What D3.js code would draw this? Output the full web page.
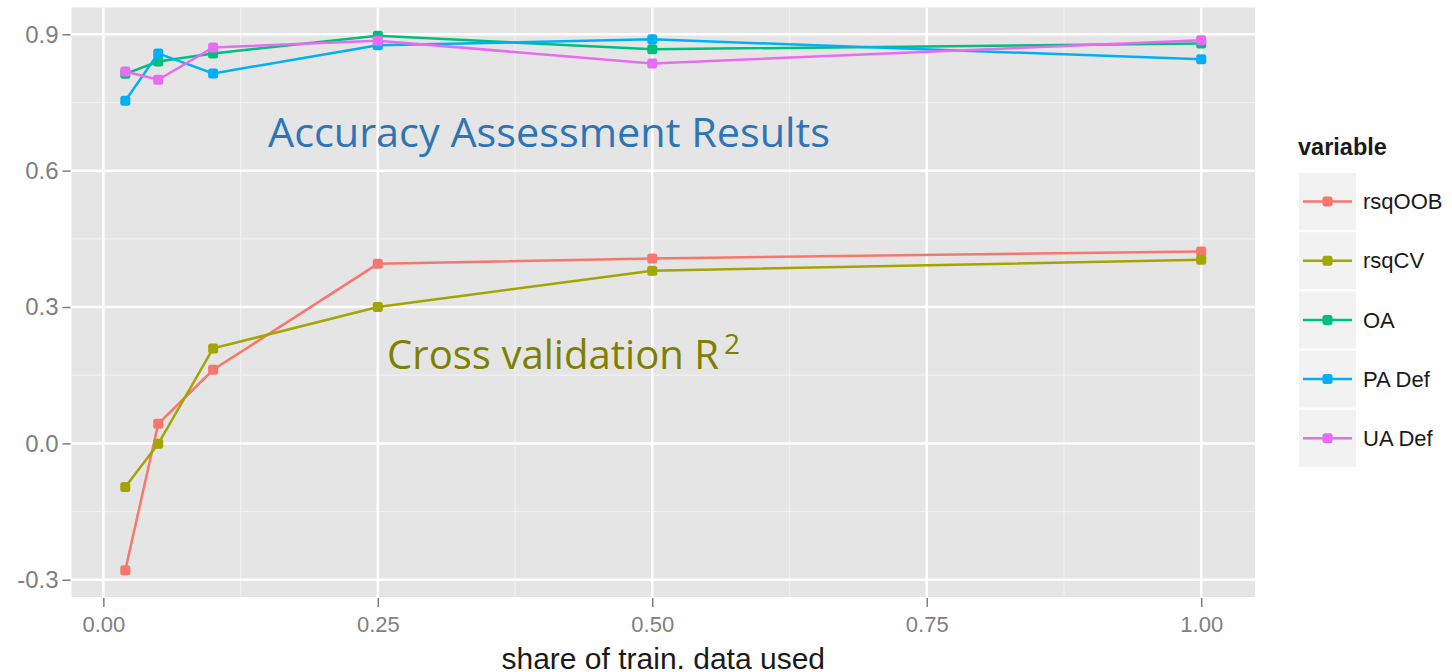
<!DOCTYPE html>
<html>
<head>
    <meta charset="utf-8">
    <title>Accuracy vs share of train data</title>
    <script src="https://cdnjs.cloudflare.com/ajax/libs/d3/7.8.5/d3.min.js"></script>
    <style>
        body { margin: 0; background: #fff; }
        svg { display: block; font-family: "Liberation Sans", Arial, sans-serif; }
        .tick text { fill: #7f7f7f; }
        .tick line { stroke: #7f7f7f; stroke-width: 1.5; }
    </style>
</head>
<body>
    <div id="chart"></div>
    <script>
        // data
        const shares = [0.02, 0.05, 0.1, 0.25, 0.5, 1.0];
        const rsqOOB = [-0.279, 0.043, 0.162, 0.395, 0.407, 0.422];
        const rsqCV = [-0.096, -0.001, 0.209, 0.300, 0.380, 0.404];
        const OA = [0.813, 0.840, 0.858, 0.897, 0.867, 0.880];
        const PADef = [0.754, 0.858, 0.814, 0.876, 0.889, 0.845];
        const UADef = [0.818, 0.800, 0.871, 0.886, 0.836, 0.887];

        const seriesNames = ['rsqOOB', 'rsqCV', 'OA', 'PA Def', 'UA Def'];
        const seriesValues = [rsqOOB, rsqCV, OA, PADef, UADef];
        const colors = ['#F8766D', '#A3A500', '#00BF7D', '#00B0F6', '#E76BF3'];

        const xTicks = [0, 0.25, 0.5, 0.75, 1];
        const xMinor = [0.125, 0.375, 0.625, 0.875];
        const yTicks = [-0.3, 0, 0.3, 0.6, 0.9];
        const yMinor = [-0.15, 0.15, 0.45, 0.75];

        const W = 1452, H = 672;
        const panel = { left: 71.5, right: 1255, top: 7.5, bottom: 597 };

        const svg = d3.select('#chart').append('svg')
            .attr('width', W)
            .attr('height', H);

        // ggplot style expanded domains
        const x = d3.scaleLinear().domain([-0.029, 1.049]).range([panel.left, panel.right]);
        const y = d3.scaleLinear().domain([-0.338, 0.959]).range([panel.bottom, panel.top]);

        // panel background
        svg.append('rect')
            .attr('x', panel.left).attr('y', panel.top)
            .attr('width', panel.right - panel.left)
            .attr('height', panel.bottom - panel.top)
            .attr('fill', '#e5e5e5');

        // minor grid
        svg.append('g').selectAll('line').data(xMinor).join('line')
            .attr('x1', d => x(d)).attr('x2', d => x(d))
            .attr('y1', panel.top).attr('y2', panel.bottom)
            .attr('stroke', '#f0f0f0').attr('stroke-width', 1.2);
        svg.append('g').selectAll('line').data(yMinor).join('line')
            .attr('y1', d => y(d)).attr('y2', d => y(d))
            .attr('x1', panel.left).attr('x2', panel.right)
            .attr('stroke', '#f0f0f0').attr('stroke-width', 1.2);

        // major grid
        svg.append('g').selectAll('line').data(xTicks).join('line')
            .attr('x1', d => x(d)).attr('x2', d => x(d))
            .attr('y1', panel.top).attr('y2', panel.bottom)
            .attr('stroke', '#fff').attr('stroke-width', 2.5);
        svg.append('g').selectAll('line').data(yTicks).join('line')
            .attr('y1', d => y(d)).attr('y2', d => y(d))
            .attr('x1', panel.left).attr('x2', panel.right)
            .attr('stroke', '#fff').attr('stroke-width', 2.5);

        // axes (plain hyphen for negatives, like ggplot)
        const fmtY = d => d3.format('.1f')(d).replace('\u2212', '-');
        const yAxis = svg.append('g')
            .attr('transform', `translate(${panel.left - 1},0)`)
            .call(d3.axisLeft(y).tickValues(yTicks).tickFormat(fmtY).tickSize(8).tickPadding(4));
        yAxis.select('.domain').remove();
        yAxis.selectAll('text').style('font-size', '24px');

        const xAxis = svg.append('g')
            .attr('transform', `translate(0,${panel.bottom + 1})`)
            .call(d3.axisBottom(x).tickValues(xTicks).tickFormat(d3.format('.2f')).tickSize(9).tickPadding(9));
        xAxis.select('.domain').remove();
        xAxis.selectAll('text').style('font-size', '22px');

        svg.append('text')
            .attr('x', (panel.left + panel.right) / 2)
            .attr('y', 669)
            .attr('text-anchor', 'middle')
            .style('font-size', '30px')
            .attr('fill', '#1a1a1a')
            .text('share of train. data used');

        // lines and points
        const line = d3.line()
            .x((d, i) => x(shares[i]))
            .y(d => y(d));

        seriesValues.forEach((vals, k) => {
            svg.append('path')
                .datum(vals)
                .attr('fill', 'none')
                .attr('stroke', colors[k])
                .attr('stroke-width', 2.5)
                .attr('d', line);
            svg.append('g').selectAll('rect').data(vals).join('rect')
                .attr('x', (d, i) => x(shares[i]) - 5)
                .attr('y', d => y(d) - 5)
                .attr('width', 10).attr('height', 10)
                .attr('rx', 2.5)
                .attr('fill', colors[k]);
        });

        // annotations
        svg.append('text')
            .attr('x', 268).attr('y', 147)
            .attr('fill', '#2e75b6')
            .style('font-family', '"Open Sans", sans-serif')
            .style('font-size', '41px')
            .attr('textLength', 562)
            .attr('lengthAdjust', 'spacingAndGlyphs')
            .text('Accuracy Assessment Results');

        const cv = svg.append('text')
            .attr('x', 387).attr('y', 369)
            .attr('fill', '#7f7f00')
            .style('font-family', '"Open Sans", sans-serif')
            .style('font-size', '41px');
        cv.append('tspan')
            .attr('textLength', 332)
            .attr('lengthAdjust', 'spacingAndGlyphs')
            .text('Cross validation R');
        cv.append('tspan')
            .attr('dx', 5)
            .attr('dy', -15)
            .style('font-size', '28px')
            .text('2');

        // legend
        const legX = 1299, legY = 173, key = 57, pitch = 59.2;
        svg.append('text')
            .attr('x', 1298).attr('y', 155)
            .style('font-size', '23.5px')
            .style('font-weight', 'bold')
            .attr('fill', '#1a1a1a')
            .text('variable');

        const leg = svg.append('g').selectAll('g').data(seriesNames).join('g')
            .attr('transform', (d, i) => `translate(${legX},${legY + i * pitch})`);
        leg.append('rect')
            .attr('width', key).attr('height', key)
            .attr('fill', '#f2f2f2');
        leg.append('line')
            .attr('x1', 4).attr('x2', key - 4)
            .attr('y1', key / 2).attr('y2', key / 2)
            .attr('stroke', (d, i) => colors[i])
            .attr('stroke-width', 2.5);
        leg.append('rect')
            .attr('x', key / 2 - 5).attr('y', key / 2 - 5)
            .attr('width', 10).attr('height', 10).attr('rx', 2.5)
            .attr('fill', (d, i) => colors[i]);
        leg.append('text')
            .attr('x', key + 7).attr('y', key / 2)
            .attr('dy', '0.35em')
            .style('font-size', '22px')
            .attr('fill', '#1a1a1a')
            .text(d => d);
    </script>
</body>
</html>
